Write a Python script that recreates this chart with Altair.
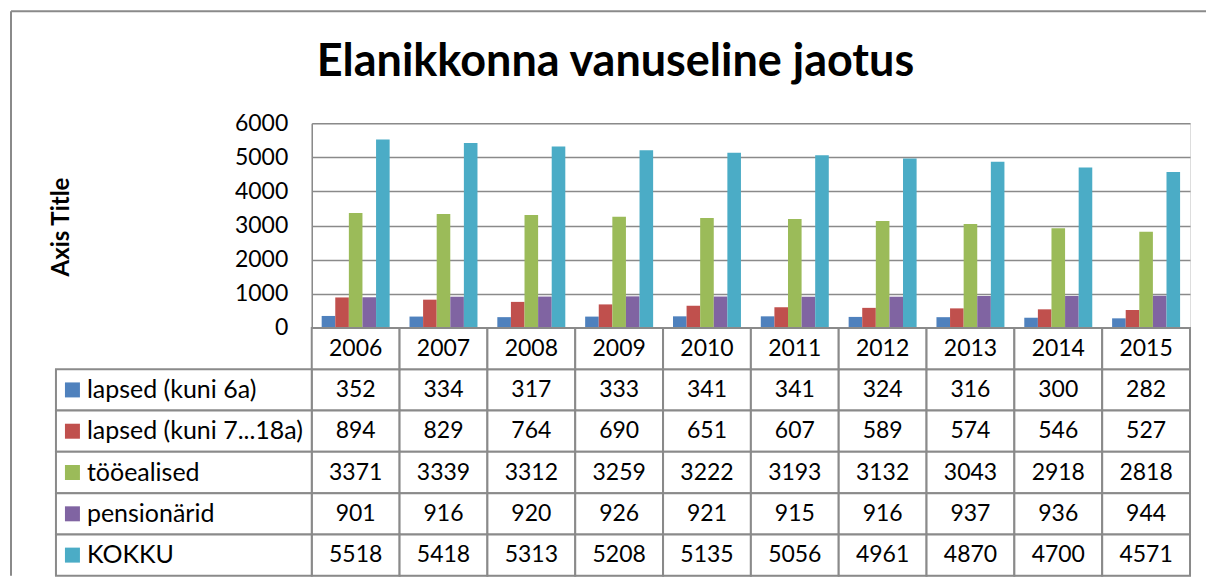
import altair as alt
import pandas as pd

title_text = "Elanikkonna vanuseline jaotus"
years = ["2006", "2007", "2008", "2009", "2010", "2011", "2012", "2013", "2014", "2015"]
series = ["lapsed (kuni 6a)", "lapsed (kuni 7...18a)", "tööealised", "pensionärid", "KOKKU"]
colors = ["#4F81BD", "#C0504D", "#9BBB59", "#8064A2", "#4BACC6"]
v_lapsed6 = [352, 334, 317, 333, 341, 341, 324, 316, 300, 282]
v_lapsed18 = [894, 829, 764, 690, 651, 607, 589, 574, 546, 527]
v_tooealised = [3371, 3339, 3312, 3259, 3222, 3193, 3132, 3043, 2918, 2818]
v_pension = [901, 916, 920, 926, 921, 915, 916, 937, 936, 944]
v_kokku = [5518, 5418, 5313, 5208, 5135, 5056, 4961, 4870, 4700, 4571]
y_ticks = [0, 1000, 2000, 3000, 4000, 5000, 6000]

all_vals = [v_lapsed6, v_lapsed18, v_tooealised, v_pension, v_kokku]
rows = []
for s, vals in zip(series, all_vals):
    for y, v in zip(years, vals):
        rows.append({"year": y, "series": s, "value": v, "label": str(v)})
df = pd.DataFrame(rows)

HDR = "hdr"
row_domain = [HDR] + series
hdr_df = pd.DataFrame({"year": years, "series": [HDR] * len(years), "label": years})
cells_df = pd.concat([df[["year", "series", "label"]], hdr_df], ignore_index=True)
series_df = pd.DataFrame({"series": series})

FONT = "Lato"
GRAY = "#8a8a8a"
W = 879
TABLE_H = 248

color_scale = alt.Scale(domain=series, range=colors)

# ---------- top: bar chart ----------
bars = alt.Chart(df).mark_bar().encode(
    x=alt.X("year:N", sort=years, axis=None,
            scale=alt.Scale(paddingInner=0.226, paddingOuter=0.113)),
    xOffset=alt.XOffset("series:N", sort=series),
    y=alt.Y("value:Q", scale=alt.Scale(domain=[0, 6000]),
            axis=alt.Axis(values=y_ticks, format="d", title="Axis Title", ticks=False,
                          labelPadding=24, labelFontSize=23, labelFont=FONT,
                          labelColor="black", gridColor=GRAY, gridWidth=1.5,
                          domainColor=GRAY, domainWidth=1.5,
                          titleFont=FONT, titleFontSize=24, titleFontWeight="bold",
                          titleColor="black", titleX=-238, titleY=103.5)),
    color=alt.Color("series:N", scale=color_scale, legend=None),
)

title_mark = alt.Chart(pd.DataFrame({"t": [title_text]})).mark_text(
    font=FONT, fontSize=45, fontWeight="bold", color="black",
    align="center", baseline="alphabetic"
).encode(text="t:N", x=alt.value(304), y=alt.value(-47))

border_left = alt.Chart(pd.DataFrame({"a": [0]})).mark_rule(
    color=GRAY, strokeWidth=2
).encode(x=alt.value(-301), y=alt.value(-112), y2=alt.value(205 + TABLE_H))
border_top = alt.Chart(pd.DataFrame({"a": [0]})).mark_rule(
    color=GRAY, strokeWidth=2
).encode(x=alt.value(-301), x2=alt.value(895), y=alt.value(-112))

top = alt.layer(bars, title_mark, border_left, border_top).properties(width=W, height=205)

# ---------- bottom: data table ----------
xb = alt.X("year:N", sort=years, axis=None, scale=alt.Scale(padding=0))
yb = alt.Y("series:N", sort=row_domain, axis=None,
           scale=alt.Scale(domain=row_domain, padding=0))

cells = alt.Chart(cells_df).mark_rect(
    fill="white", stroke=GRAY, strokeWidth=2
).encode(x=xb, y=yb)

label_cells = alt.Chart(series_df).mark_rect(
    fill="white", stroke=GRAY, strokeWidth=2
).encode(x=alt.value(-256), x2=alt.value(0), y=yb)

cell_text = alt.Chart(cells_df).mark_text(
    font=FONT, fontSize=23, color="black", baseline="middle", align="center"
).encode(x=xb, y=yb, text="label:N")

swatches = alt.Chart(series_df).mark_point(
    shape="square", filled=True, size=225, opacity=1
).encode(x=alt.value(-239.5), y=yb,
         color=alt.Color("series:N", scale=color_scale, legend=None))

label_text = alt.Chart(series_df).mark_text(
    font=FONT, fontSize=25, color="black", baseline="middle", align="left"
).encode(x=alt.value(-225), y=yb, text="series:N")

bottom = alt.layer(cells, label_cells, cell_text, swatches, label_text).properties(
    width=W, height=TABLE_H)

chart = alt.vconcat(top, bottom, spacing=0, bounds="flush").resolve_scale(
    x="independent", y="independent", color="shared"
).properties(
    padding={"left": 1, "top": 1, "right": 0, "bottom": 0}
).configure_view(strokeWidth=0).configure(background="white")

chart.save("out.html", embed_options={"renderer": "svg", "actions": False})
